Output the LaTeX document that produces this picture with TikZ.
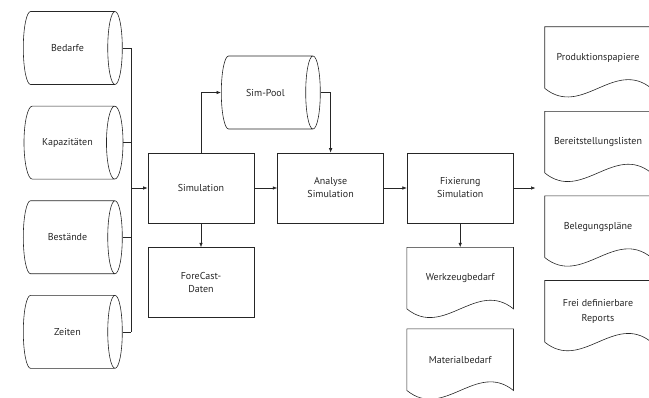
\documentclass[tikz,border=0pt]{standalone}
\usepackage{fontspec}
\setmainfont{PT Sans}
\usetikzlibrary{arrows.meta,positioning,calc,shapes.geometric}

\begin{document}
\begin{tikzpicture}[
  x=1pt, y=-1pt,
  color=black!85, line width=0.6pt,
  font=\fontsize{10}{13}\selectfont,
  node distance=21pt and 23pt,
  store/.style={cylinder, shape aspect=1.05, draw, text=black!85, align=center, minimum width=73pt, minimum height=99pt},
  proc/.style={rectangle, draw, text=black!85, align=center, minimum width=106pt, minimum height=70pt},
  doc/.style={rectangle, text=black!85, align=center, minimum width=106pt, minimum height=61pt},
  arrow/.style={-{Latex[length=4.5pt,width=3.5pt]}}
]
  \useasboundingbox (0,0) rectangle (649,397);

  % data stores on the left
  \node[store, anchor=west] (bedarfe) at (23,48) {Bedarfe};
  \node[store, below=of bedarfe] (kapa) {Kapazitäten};
  \node[store, below=of kapa] (best) {Bestände};
  \node[store, below=of best] (zeiten) {Zeiten};

  % processing chain
  \node[proc] (sim) at (201,188) {Simulation};
  \node[proc, right=of sim] (analyse) {Analyse\\Simulation};
  \node[proc, right=of analyse] (fix) {Fixierung\\Simulation};
  \node[proc, below=24pt of sim] (forecast) {ForeCast-\\Daten};
  \node[store, anchor=west] (simpool) at (221,92.5) {Sim-Pool};
  \coordinate (bus) at (131,188);
  \coordinate[right=22pt of fix] (out);

  % documents
  \node[doc, below=24pt of fix] (werkzeug) {Werkzeugbedarf};
  \node[doc, below=20pt of werkzeug] (material) {Materialbedarf};
  \node[doc] (prod) at (598,57.5) {Produktionspapiere};
  \node[doc, below=23pt of prod] (bereit) {Bereitstellungslisten};
  \node[doc, below=23pt of bereit] (beleg) {Belegungspläne};
  \node[doc, below=23pt of beleg] (frei) {Frei definierbare\\[2pt]Reports};
  \foreach \d in {werkzeug, material, prod, bereit, beleg, frei}
    \draw (\d.south west) -- (\d.north west) -- (\d.north east) -- (\d.south east)
      .. controls +(-37,-30) and +(37,30) .. (\d.south west);

  % connectors
  \foreach \s in {bedarfe, kapa, best, zeiten}
    \draw (\s.east) -- (\s.east -| bus);
  \draw (bedarfe.east -| bus) -- (zeiten.east -| bus);
  \draw[arrow] (bus) -- (sim);
  \draw[arrow] (sim.north) |- (simpool.west);
  \draw[arrow] (simpool.east) -| (analyse.north);
  \draw[arrow] (sim) -- (analyse);
  \draw[arrow] (analyse) -- (fix);
  \draw[arrow] (fix) -- (out);
  \draw[arrow] (sim) -- (forecast);
  \draw[arrow] (fix) -- (werkzeug);
\end{tikzpicture}
\end{document}
